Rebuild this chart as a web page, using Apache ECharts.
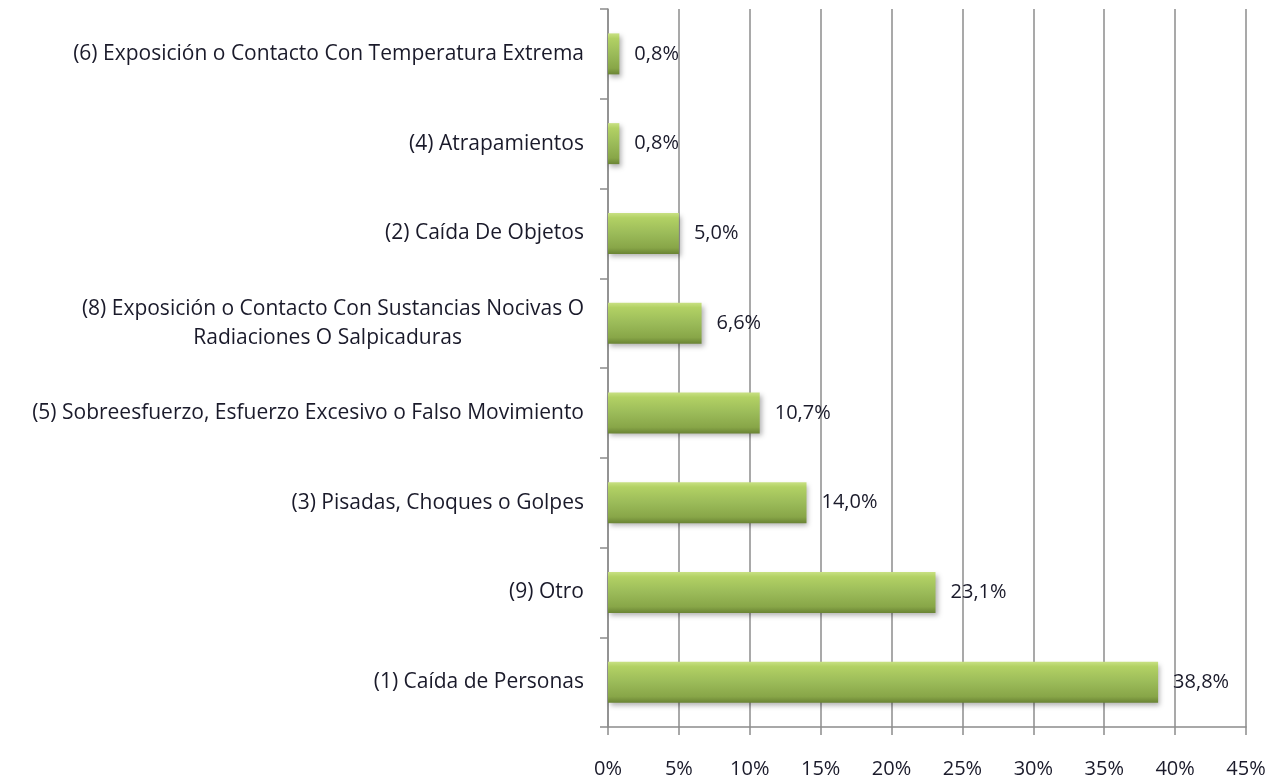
<!DOCTYPE html>
<html>
<head>
<meta charset="utf-8">
<script src="https://cdn.jsdelivr.net/npm/echarts@6/dist/echarts.min.js"></script>
<style>
  html, body { margin: 0; padding: 0; background: #fff; }
  #chart { width: 1287px; height: 780px; }
</style>
</head>
<body>
<div id="chart"></div>
<script>
// categorías de abajo hacia arriba
const categorias = [
  '(1) Caída de Personas',
  '(9) Otro',
  '(3) Pisadas, Choques o Golpes',
  '(5) Sobreesfuerzo, Esfuerzo Excesivo o Falso Movimiento',
  '(8) Exposición o Contacto Con Sustancias Nocivas O\nRadiaciones O Salpicaduras',
  '(2) Caída De Objetos',
  '(4) Atrapamientos',
  '(6) Exposición o Contacto Con Temperatura Extrema'
]
// porcentajes
const valores = [38.8, 23.1, 14.0, 10.7, 6.6, 5.0, 0.8, 0.8]
const ticksX = [0, 5, 10, 15, 20, 25, 30, 35, 40, 45]

const fuente = '"Open Sans", Lato, sans-serif'
const tam = 21

let myChart = echarts.init(document.getElementById('chart'))
let option = {
  backgroundColor: '#fff',
  animation: false,
  grid: {
    left: 608,
    right: 41,
    top: 9,
    bottom: 53
  },
  xAxis: {
    type: 'value',
    min: ticksX[0],
    max: ticksX[ticksX.length - 1],
    interval: 5,
    axisLine: { show: true, lineStyle: { color: '#8c8c8c', width: 1.5 } },
    axisTick: { show: true, length: 8, lineStyle: { color: '#8c8c8c', width: 1.5 } },
    splitLine: { show: true, lineStyle: { color: '#8c8c8c', width: 1.5 } },
    axisLabel: {
      color: '#1a1a2a',
      fontSize: 20,
      fontFamily: fuente,
      margin: 32,
      formatter: v => v + '%'
    }
  },
  yAxis: {
    type: 'category',
    data: categorias,
    axisLine: { show: true, lineStyle: { color: '#8c8c8c', width: 1.5 } },
    axisTick: { show: true, length: 8, lineStyle: { color: '#8c8c8c', width: 1.5 } },
    axisLabel: {
      color: '#1a1a2a',
      fontSize: tam,
      fontFamily: fuente,
      margin: 24,
      lineHeight: 29,
      formatter: function (v) {
        if (v.indexOf('\n') >= 0) {
          const partes = v.split('\n')
          return '{a|' + partes[0] + '}\n{b|' + partes[1] + '}'
        }
        return v
      },
      rich: {
        a: { fontSize: tam, fontFamily: fuente, color: '#1a1a2a', lineHeight: 29 },
        b: { fontSize: tam, fontFamily: fuente, color: '#1a1a2a', lineHeight: 29, padding: [0, 122, 0, 0] }
      }
    }
  },
  series: [
    {
      type: 'bar',
      data: valores,
      barWidth: 41,
      itemStyle: {
        color: new echarts.graphic.LinearGradient(0, 0, 0, 1, [
          { offset: 0, color: '#c9e184' },
          { offset: 0.12, color: '#b2d164' },
          { offset: 0.5, color: '#9bbb59' },
          { offset: 0.85, color: '#88a648' },
          { offset: 1, color: '#6a8434' }
        ]),
        shadowBlur: 5,
        shadowOffsetX: 2,
        shadowOffsetY: 3,
        shadowColor: 'rgba(0,0,0,0.3)'
      },
      label: {
        show: true,
        position: 'right',
        distance: 15,
        color: '#1a1a2a',
        fontSize: 20,
        fontFamily: fuente,
        formatter: p => p.value.toFixed(1).replace('.', ',') + '%'
      }
    }
  ]
}
myChart.setOption(option)
</script>
</body>
</html>
